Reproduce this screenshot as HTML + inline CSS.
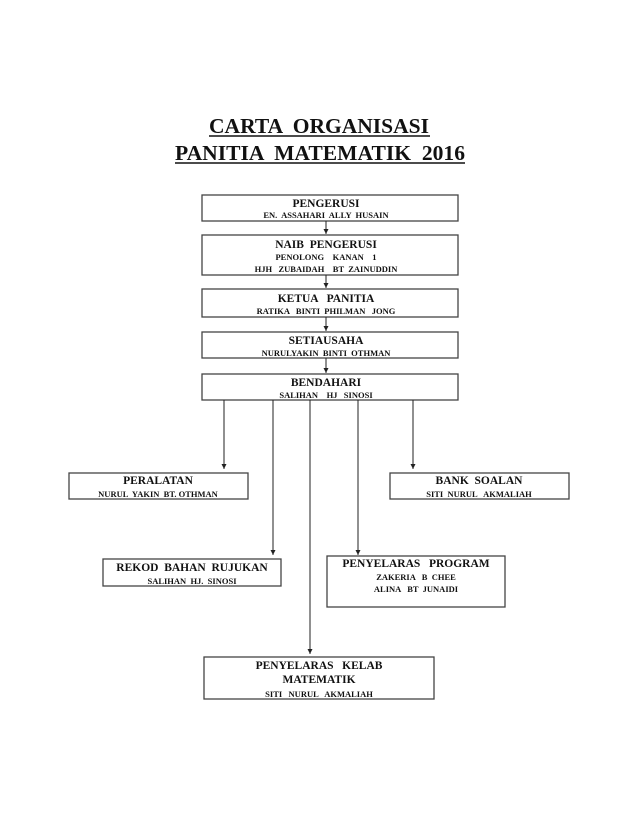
<!DOCTYPE html>
<html><head><meta charset="utf-8"><style>
html,body{margin:0;padding:0;background:#fff;}
svg{display:block;}
text{font-family:"Liberation Serif",serif;font-weight:bold;fill:#111;text-anchor:middle;white-space:pre;}
.h{font-size:11.5px;}
.s{font-size:8.5px;}
rect{fill:#fff;stroke:#444;stroke-width:1.3;}
line{stroke:#222;stroke-width:1;}
</style></head><body>
<svg width="638" height="826" viewBox="0 0 638 826" xmlns="http://www.w3.org/2000/svg" xml:space="preserve">
<defs><marker id="a" markerWidth="6" markerHeight="6" refX="5" refY="2.5" orient="auto" markerUnits="userSpaceOnUse"><path d="M0,0 L5,2.5 L0,5 Z" fill="#222"/></marker></defs>
<text x="319" y="133" style="font-size:21px" textLength="220" lengthAdjust="spacingAndGlyphs">CARTA  ORGANISASI</text>
<line x1="209" y1="136" x2="430" y2="136" style="stroke:#111;stroke-width:1.6"/>
<text x="320" y="160" style="font-size:21px" textLength="290" lengthAdjust="spacingAndGlyphs">PANITIA  MATEMATIK  2016</text>
<line x1="175" y1="163" x2="465" y2="163" style="stroke:#111;stroke-width:1.6"/>

<rect x="202" y="195" width="256" height="26"/>
<text class="h" x="326" y="207">PENGERUSI</text>
<text class="s" x="326" y="218">EN.  ASSAHARI  ALLY  HUSAIN</text>
<line x1="326" y1="221" x2="326" y2="234" marker-end="url(#a)"/>

<rect x="202" y="235" width="256" height="40"/>
<text class="h" x="326" y="248">NAIB  PENGERUSI</text>
<text class="s" x="326" y="260">PENOLONG    KANAN    1</text>
<text class="s" x="326" y="272">HJH   ZUBAIDAH    BT  ZAINUDDIN</text>
<line x1="326" y1="275" x2="326" y2="288" marker-end="url(#a)"/>

<rect x="202" y="289" width="256" height="28"/>
<text class="h" x="326" y="302">KETUA   PANITIA</text>
<text class="s" x="326" y="314">RATIKA   BINTI  PHILMAN   JONG</text>
<line x1="326" y1="317" x2="326" y2="331" marker-end="url(#a)"/>

<rect x="202" y="332" width="256" height="26"/>
<text class="h" x="326" y="344">SETIAUSAHA</text>
<text class="s" x="326" y="356">NURULYAKIN  BINTI  OTHMAN</text>
<line x1="326" y1="358" x2="326" y2="373" marker-end="url(#a)"/>

<rect x="202" y="374" width="256" height="26"/>
<text class="h" x="326" y="386">BENDAHARI</text>
<text class="s" x="326" y="398">SALIHAN    HJ   SINOSI</text>

<line x1="224" y1="400" x2="224" y2="469" marker-end="url(#a)"/>
<line x1="273" y1="400" x2="273" y2="555" marker-end="url(#a)"/>
<line x1="310" y1="400" x2="310" y2="654" marker-end="url(#a)"/>
<line x1="358" y1="400" x2="358" y2="555" marker-end="url(#a)"/>
<line x1="413" y1="400" x2="413" y2="469" marker-end="url(#a)"/>

<rect x="69" y="473" width="179" height="26"/>
<text class="h" x="158" y="484">PERALATAN</text>
<text class="s" x="158" y="497">NURUL  YAKIN  BT. OTHMAN</text>

<rect x="390" y="473" width="179" height="26"/>
<text class="h" x="479" y="484">BANK  SOALAN</text>
<text class="s" x="479" y="497">SITI  NURUL   AKMALIAH</text>

<rect x="103" y="559" width="178" height="27"/>
<text class="h" x="192" y="571">REKOD  BAHAN  RUJUKAN</text>
<text class="s" x="192" y="584">SALIHAN  HJ.  SINOSI</text>

<rect x="327" y="556" width="178" height="51"/>
<text class="h" x="416" y="567">PENYELARAS   PROGRAM</text>
<text class="s" x="416" y="580">ZAKERIA   B  CHEE</text>
<text class="s" x="416" y="592">ALINA   BT  JUNAIDI</text>

<rect x="204" y="657" width="230" height="42"/>
<text class="h" x="319" y="669">PENYELARAS   KELAB</text>
<text class="h" x="319" y="683">MATEMATIK</text>
<text class="s" x="319" y="697">SITI   NURUL   AKMALIAH</text>
</svg>
</body></html>
